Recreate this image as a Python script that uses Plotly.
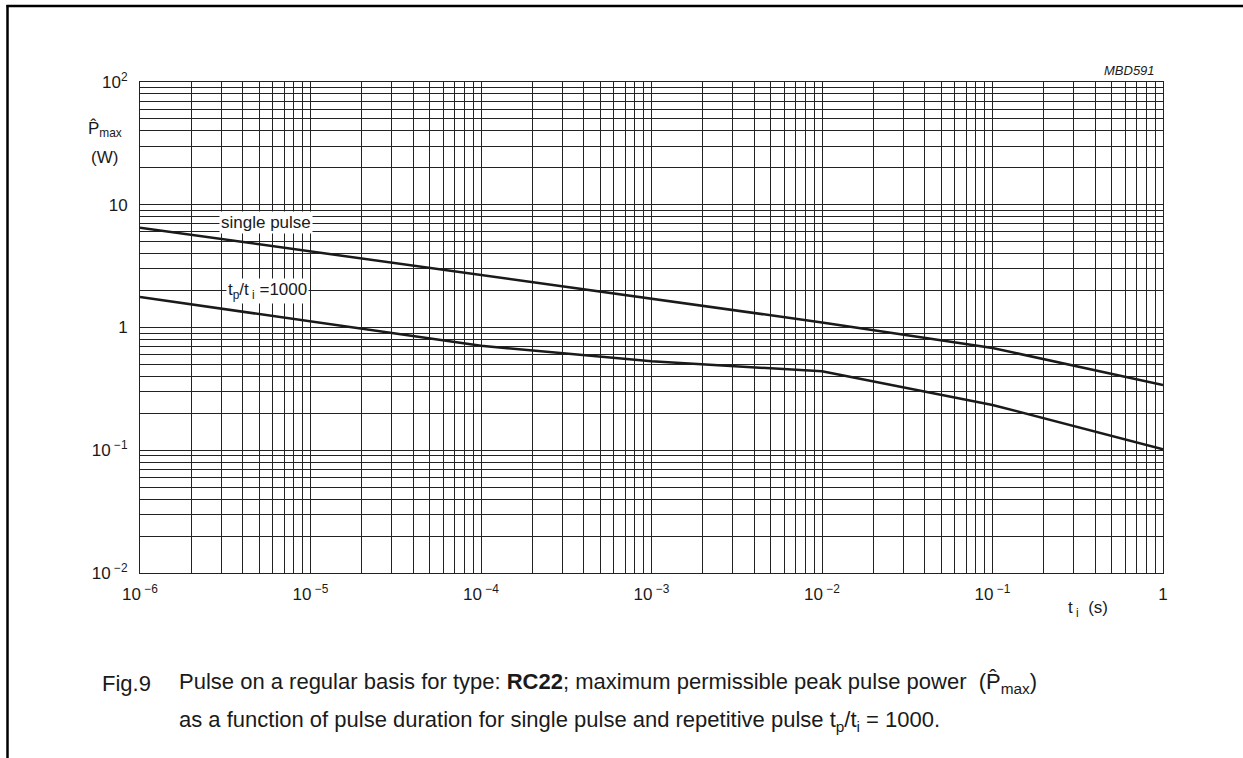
import plotly.graph_objects as go

# ---- data ----
t_single = [1e-6, 1e-2, 1e-1, 1]
p_single = [6.5, 1.1, 0.68, 0.34]
t_rep = [1e-6, 1e-4, 1e-3, 1e-2, 1e-1, 1]
p_rep = [1.77, 0.71, 0.53, 0.44, 0.234, 0.102]

x_tickvals = [1e-6, 1e-5, 1e-4, 1e-3, 1e-2, 1e-1, 1]
x_ticktext = ["10\u2009<sup>\u22126</sup>", "10\u2009<sup>\u22125</sup>", "10\u2009<sup>\u22124</sup>",
              "10\u2009<sup>\u22123</sup>", "10\u2009<sup>\u22122</sup>", "10\u2009<sup>\u22121</sup>", "1"]
y_tickvals = [1e-2, 1e-1, 1, 10, 100]
y_ticktext = ["10\u2009<sup>\u22122</sup>", "10\u2009<sup>\u22121</sup>", "1", "10", "10<sup>2</sup>"]

W, H = 1243, 758
L, R, T, B = 140, 80, 82, 185
pw, ph = W - L - R, H - T - B

def px(x):
    return (x - L) / pw

def py(y):
    return (H - B - y) / ph

FONT = "Liberation Sans, Arial, sans-serif"
INK = "#1a1a1a"
GRID = "#222222"

fig = go.Figure()
fig.add_trace(go.Scatter(x=t_single, y=p_single, mode="lines",
                         line=dict(color=INK, width=2.5), showlegend=False))
fig.add_trace(go.Scatter(x=t_rep, y=p_rep, mode="lines",
                         line=dict(color=INK, width=2.5), showlegend=False))

grid = dict(showgrid=True, gridcolor=GRID, gridwidth=1)
fig.update_xaxes(type="log", range=[-6, 0], tickvals=x_tickvals, ticktext=x_ticktext,
                 ticks="", showline=True, linecolor=GRID, mirror=True, zeroline=False,
                 ticklabelstandoff=6,
                 tickfont=dict(family=FONT, size=17, color=INK),
                 minor=dict(dtick="D1", showgrid=True, gridcolor=GRID, gridwidth=1),
                 **grid)
fig.update_yaxes(type="log", range=[-2, 2], tickvals=y_tickvals, ticktext=y_ticktext,
                 ticks="", showline=True, linecolor=GRID, mirror=True, zeroline=False,
                 ticklabelstandoff=8,
                 tickfont=dict(family=FONT, size=17, color=INK),
                 minor=dict(dtick="D1", showgrid=True, gridcolor=GRID, gridwidth=1),
                 **grid)

ann = []
def A(x, y, text, size=17, xanchor="center", bg=None, italic=False, yanchor="middle"):
    d = dict(x=px(x), y=py(y), xref="paper", yref="paper", text=text, showarrow=False,
             xanchor=xanchor, yanchor=yanchor,
             font=dict(family=FONT, size=size, color=INK, style="italic" if italic else "normal"))
    if bg:
        d["bgcolor"] = bg
        d["borderpad"] = 1
    ann.append(d)

A(266, 222, "single pulse", bg="white")
A(267, 291, "t<sub>p</sub>/t<sub> i</sub> =1000", bg="white")
A(105, 129, "P\u0302<sub>max</sub>")
A(104, 157, "(W)")
A(1088, 609, "t<sub> i</sub>  (s)")
A(1157, 70, "MBD591", size=13, xanchor="right", italic=True)
A(100, 683, "Fig.9", size=22, xanchor="left")
A(177, 683, "Pulse on a regular basis for type: <b>RC22</b>; maximum permissible peak pulse power  (P\u0302<sub>max</sub>)",
  size=22, xanchor="left")
A(177, 721, "as a function of pulse duration for single pulse and repetitive pulse t<sub>p</sub>/t<sub>i</sub> = 1000.",
  size=22, xanchor="left")

shapes = [
    dict(type="line", xref="paper", yref="paper", x0=px(6.5), x1=px(1250), y0=py(6), y1=py(6),
         line=dict(color="black", width=2.5)),
    dict(type="line", xref="paper", yref="paper", x0=px(7.5), x1=px(7.5), y0=py(5), y1=py(765),
         line=dict(color="black", width=2.5)),
]

fig.update_layout(width=W, height=H, margin=dict(l=L, r=R, t=T, b=B),
                  paper_bgcolor="white", plot_bgcolor="white",
                  annotations=ann, shapes=shapes, font=dict(family=FONT, color=INK))

fig.write_html("out.html")
